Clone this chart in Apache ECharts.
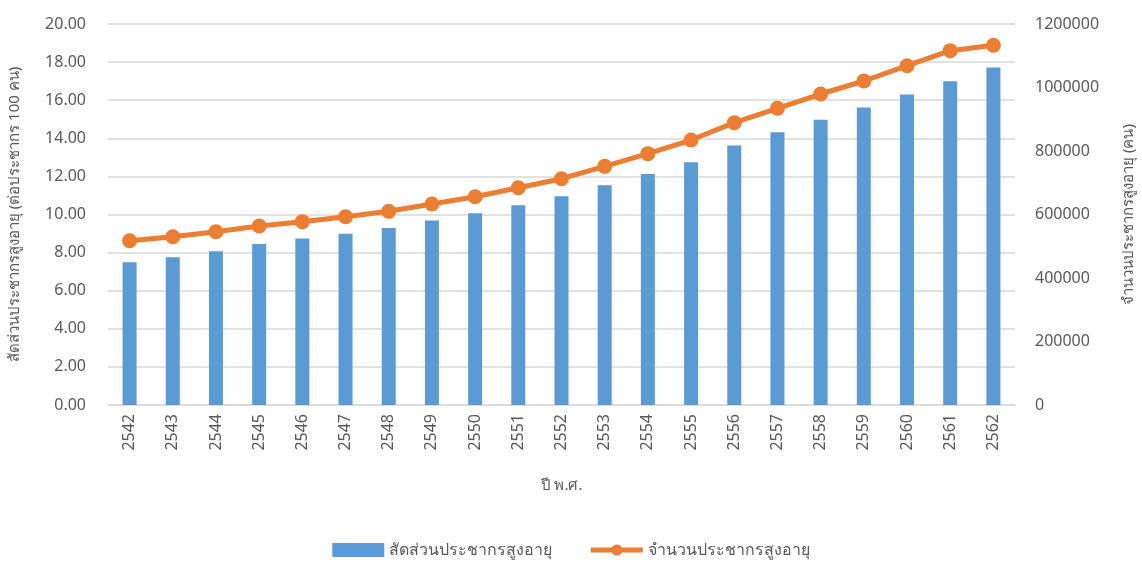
<!DOCTYPE html>
<html>
<head>
<meta charset="utf-8">
<script src="https://cdn.jsdelivr.net/npm/echarts@6/dist/echarts.min.js"></script>
<style>
  html, body { margin: 0; padding: 0; background: #fff; }
  #chart { width: 1142px; height: 565px; }
</style>
</head>
<body>
<div id="chart"></div>
<script>
const years = ['2542', '2543', '2544', '2545', '2546', '2547', '2548', '2549', '2550', '2551', '2552',
  '2553', '2554', '2555', '2556', '2557', '2558', '2559', '2560', '2561', '2562'];
// สัดส่วนประชากรสูงอายุ (ต่อประชากร 100 คน)
const ratio = [7.49, 7.75, 8.07, 8.45, 8.74, 8.99, 9.29, 9.68, 10.06, 10.49, 10.96,
  11.53, 12.13, 12.74, 13.62, 14.32, 14.97, 15.62, 16.30, 17.00, 17.72];
// จำนวนประชากรสูงอายุ (คน)
const elderly = [517500, 530000, 545800, 563800, 577400, 593100, 610000, 633000, 656000, 684400, 712800,
  751700, 791600, 834600, 889200, 934500, 979500, 1020500, 1068700, 1116000, 1133000];

const font = '"Noto Sans", "Noto Sans CJK SC", sans-serif';
const grey = '#595959';

const chart = echarts.init(document.getElementById('chart'));
chart.setOption({
  animation: false,
  textStyle: { fontFamily: font, color: grey },
  grid: { left: 108, right: 127, top: 24, bottom: 160, outerBoundsMode: 'none', containLabel: false },
  legend: {
    bottom: 2,
    left: 'center',
    itemWidth: 52,
    itemHeight: 14,
    itemGap: 36,
    textStyle: { fontSize: 16, color: grey, fontFamily: font },
    data: [
      { name: 'สัดส่วนประชากรสูงอายุ', icon: 'rect', itemStyle: { color: '#5b9bd5' } },
      { name: 'จำนวนประชากรสูงอายุ', lineStyle: { width: 5 } }
    ]
  },
  xAxis: {
    type: 'category',
    data: years,
    name: 'ปี พ.ศ.',
    nameLocation: 'middle',
    nameGap: 73,
    nameTextStyle: { fontSize: 15, color: grey },
    axisLine: { lineStyle: { color: '#d9d9d9', width: 1.5 } },
    axisTick: { show: false },
    axisLabel: { rotate: 90, fontSize: 16, color: grey, margin: 9 }
  },
  yAxis: [{
    type: 'value',
    min: 0, max: 20, interval: 2,
    name: 'สัดส่วนประชากรสูงอายุ (ต่อประชากร 100 คน)',
    nameLocation: 'middle',
    nameGap: 86,
    nameTextStyle: { fontSize: 15, color: grey },
    axisLine: { show: false },
    axisTick: { show: false },
    axisLabel: { fontSize: 16, color: grey, margin: 22, formatter: v => v.toFixed(2) },
    splitLine: { lineStyle: { color: '#d9d9d9', width: 1.5 } }
  }, {
    type: 'value',
    min: 0, max: 1200000, interval: 200000,
    name: 'จำนวนประชากรสูงอายุ (คน)',
    nameLocation: 'middle',
    nameGap: 106,
    nameRotate: 90,
    nameTextStyle: { fontSize: 15, color: grey },
    axisLine: { show: false },
    axisTick: { show: false },
    axisLabel: { fontSize: 16, color: grey, margin: 20, formatter: v => String(v) },
    splitLine: { show: false }
  }],
  series: [{
    name: 'สัดส่วนประชากรสูงอายุ',
    type: 'bar',
    barWidth: 14,
    itemStyle: { color: '#5b9bd5' },
    data: ratio
  }, {
    name: 'จำนวนประชากรสูงอายุ',
    type: 'line',
    yAxisIndex: 1,
    symbol: 'circle',
    symbolSize: 15,
    lineStyle: { width: 5, color: '#ed7d31' },
    itemStyle: { color: '#ed7d31' },
    data: elderly
  }]
});
</script>
</body>
</html>
